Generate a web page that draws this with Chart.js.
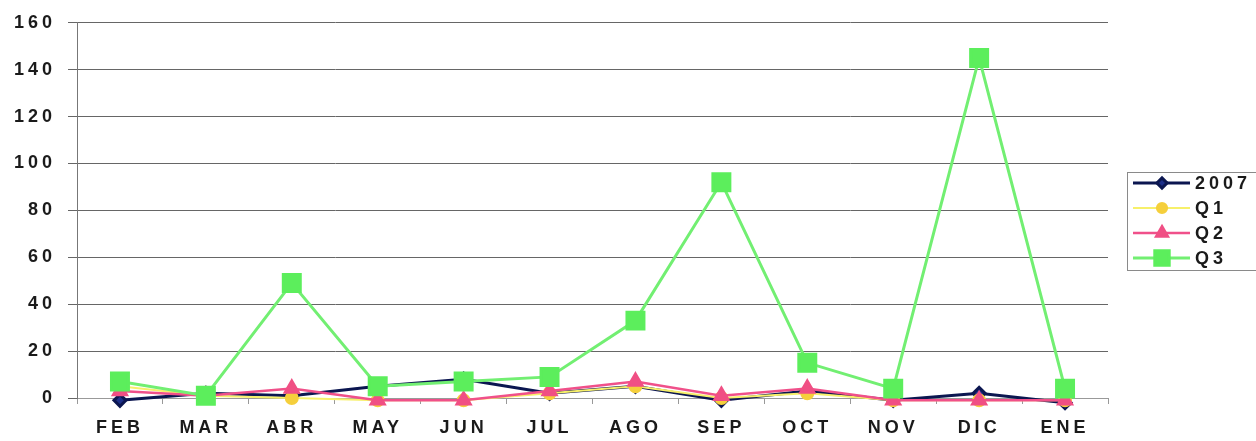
<!DOCTYPE html>
<html>
<head>
<meta charset="utf-8">
<script src="https://cdn.jsdelivr.net/npm/chart.js@4.4.0/dist/chart.umd.min.js"></script>
<style>
  html, body { margin: 0; padding: 0; background: #fff; }
  #wrap { width: 1256px; height: 441px; }
</style>
</head>
<body>
<div id="wrap"><canvas id="lineChart"></canvas></div>
<script>
// data
const months = ['FEB', 'MAR', 'ABR', 'MAY', 'JUN', 'JUL', 'AGO', 'SEP', 'OCT', 'NOV', 'DIC', 'ENE'];
const serie2007 = [-1, 2, 1, 5, 8, 2, 5, -1, 3, -1, 2, -2];
const serieQ1 = [5, 1, 0, -1, -1, 2, 5, 0, 2, -1, -1, -1];
const serieQ2 = [3, 1, 4, -1, -1, 3, 7, 1, 4, -1, -1, -1];
const serieQ3 = [7, 1, 49, 5, 7, 9, 33, 92, 15, 4, 145, 4];
const yMin = 0, yMax = 160, yStep = 20;

const fontMain = { family: '"Liberation Sans", Arial, sans-serif', size: 18, weight: 'bold' };

// wide lettering like the original scan
const spacing = {
  id: 'spacing',
  beforeUpdate(chart) { chart.ctx.letterSpacing = '4px'; },
  beforeDraw(chart) { chart.ctx.letterSpacing = '4px'; }
};

// boxed legend with line + marker, like Excel
const boxLegend = {
  id: 'boxLegend',
  afterDraw(chart) {
    const ctx = chart.ctx;
    const x0 = 1127, y0 = 172, rowH = 25;
    ctx.save();
    ctx.strokeStyle = '#8a8a8a';
    ctx.lineWidth = 1;
    ctx.strokeRect(x0 + 0.5, y0 + 0.5, 150, 98);
    chart.data.datasets.forEach(function (ds, i) {
      const y = y0 + 11 + i * rowH;
      ctx.strokeStyle = ds.borderColor;
      ctx.lineWidth = ds.borderWidth;
      ctx.beginPath();
      ctx.moveTo(x0 + 6, y);
      ctx.lineTo(x0 + 63, y);
      ctx.stroke();
      ctx.fillStyle = ds.pointBackgroundColor;
      ctx.strokeStyle = ds.pointBorderColor;
      Chart.helpers.drawPoint(ctx, { pointStyle: ds.pointStyle, radius: ds.pointRadius * 0.85, borderWidth: 1, rotation: 0 }, x0 + 35, y);
      ctx.fillStyle = '#1a1a1a';
      ctx.font = 'bold 18px "Liberation Sans", Arial, sans-serif';
      ctx.letterSpacing = '4px';
      ctx.textBaseline = 'middle';
      ctx.textAlign = 'left';
      ctx.fillText(ds.label, x0 + 68, y + 1);
    });
    ctx.restore();
  }
};

const ctx1 = document.getElementById('lineChart').getContext('2d');
const lineChart = new Chart(ctx1, {
  type: 'line',
  data: {
    labels: months,
    datasets: [{
      label: '2007',
      data: serie2007,
      borderColor: '#0b1650',
      borderWidth: 3,
      pointStyle: 'rectRot',
      pointRadius: 6,
      pointBackgroundColor: '#1c2f8a',
      pointBorderColor: '#0b1650',
      order: 4
    }, {
      label: 'Q1',
      data: serieQ1,
      borderColor: '#f7f06a',
      borderWidth: 2,
      pointStyle: 'circle',
      pointRadius: 6,
      pointBackgroundColor: '#f5cf3c',
      pointBorderColor: '#f5cf3c',
      order: 3
    }, {
      label: 'Q2',
      data: serieQ2,
      borderColor: '#f0508a',
      borderWidth: 2.5,
      pointStyle: 'triangle',
      pointRadius: 8,
      pointBackgroundColor: '#f04f84',
      pointBorderColor: '#f04f84',
      order: 2
    }, {
      label: 'Q3',
      data: serieQ3,
      borderColor: '#72ef72',
      borderWidth: 3,
      pointStyle: 'rect',
      pointRadius: 12,
      pointBackgroundColor: '#5cee5c',
      pointBorderColor: '#5cee5c',
      order: 1
    }]
  },
  options: {
    responsive: true,
    maintainAspectRatio: false,
    animation: false,
    clip: false,
    layout: {
      padding: { top: 22, right: 148, bottom: 0, left: 0 }
    },
    elements: {
      line: { tension: 0 }
    },
    scales: {
      x: {
        offset: true,
        grid: {
          offset: true,
          drawOnChartArea: false,
          drawTicks: true,
          tickLength: 6,
          tickColor: '#999'
        },
        border: { color: '#999', width: 1 },
        ticks: {
          color: '#1a1a1a',
          font: fontMain,
          padding: 13,
          maxRotation: 0,
          autoSkip: false
        },
        afterFit: function (scale) { scale.height = 43; }
      },
      y: {
        min: yMin,
        max: yMax,
        grid: {
          color: '#666',
          lineWidth: 1,
          drawTicks: true,
          tickLength: 9,
          tickColor: '#666'
        },
        border: { color: '#777', width: 1 },
        ticks: {
          stepSize: yStep,
          color: '#1a1a1a',
          font: fontMain,
          padding: 12
        },
        afterFit: function (scale) { scale.width = 77; }
      }
    },
    plugins: {
      legend: { display: false },
      tooltip: { enabled: false }
    }
  },
  plugins: [spacing, boxLegend]
});
</script>
</body>
</html>
